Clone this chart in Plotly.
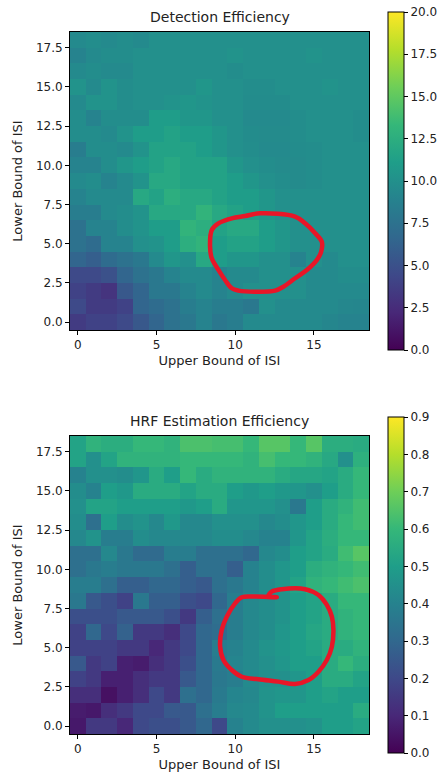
import plotly.graph_objects as go

# ---------------- data ----------------
isi_values = list(range(19))  # 0..18 (both axes)

# Detection efficiency, rows listed from lower bound 18 (top) down to 0 (bottom)
detection_rows_top_down = [
    [9.5, 9.8, 9.5, 9.8, 9.5, 10.0, 10.0, 10.0, 10.0, 10.0, 10.0, 10.0, 10.0, 10.0, 10.0, 10.0, 10.0, 10.0, 10.0],
    [9.0, 9.5, 9.8, 9.8, 10.0, 10.0, 10.0, 10.0, 10.0, 10.0, 10.2, 10.0, 10.0, 10.0, 10.0, 10.2, 10.0, 10.0, 10.0],
    [9.5, 9.8, 9.5, 9.5, 10.0, 10.0, 10.0, 10.0, 10.0, 10.0, 9.8, 10.0, 10.0, 10.0, 10.0, 10.0, 10.0, 10.0, 10.0],
    [10.2, 9.5, 10.2, 9.8, 10.0, 10.0, 10.0, 10.0, 10.5, 10.0, 10.0, 9.8, 9.8, 10.0, 10.0, 10.0, 10.2, 10.0, 10.0],
    [9.5, 10.2, 10.2, 9.8, 10.0, 10.0, 10.2, 10.5, 10.2, 10.0, 10.0, 9.7, 9.7, 9.7, 10.0, 10.0, 10.0, 10.0, 10.0],
    [9.8, 9.0, 9.8, 9.8, 9.8, 11.0, 11.0, 10.5, 10.5, 10.0, 10.0, 9.5, 9.5, 9.5, 9.8, 10.0, 10.0, 10.0, 9.8],
    [9.8, 9.8, 9.5, 10.2, 11.0, 11.0, 11.5, 11.0, 11.0, 10.5, 10.0, 9.7, 9.6, 9.6, 9.8, 10.0, 10.0, 10.0, 9.8],
    [8.5, 9.8, 9.8, 9.5, 10.2, 11.5, 11.5, 11.5, 11.0, 10.5, 10.0, 9.8, 9.5, 9.5, 9.7, 9.8, 10.0, 10.0, 10.0],
    [9.0, 9.0, 9.8, 10.5, 11.0, 11.5, 12.0, 11.5, 11.5, 11.5, 10.5, 10.0, 9.8, 9.6, 9.6, 9.8, 10.0, 10.0, 10.0],
    [9.5, 9.8, 9.0, 9.5, 10.2, 12.0, 12.0, 11.5, 11.5, 11.5, 11.0, 10.5, 10.0, 9.8, 9.6, 9.8, 10.0, 10.0, 10.0],
    [9.0, 9.5, 9.5, 9.5, 12.0, 11.5, 12.5, 12.0, 12.0, 11.5, 11.0, 11.0, 10.5, 10.0, 10.0, 10.0, 10.0, 10.0, 10.0],
    [8.5, 8.5, 9.5, 9.8, 10.2, 12.0, 12.0, 12.0, 13.0, 12.0, 11.5, 11.0, 10.5, 10.0, 10.0, 10.0, 10.0, 10.0, 10.0],
    [7.5, 9.0, 9.0, 9.8, 10.2, 11.0, 11.0, 13.0, 12.5, 11.5, 12.0, 12.0, 11.0, 10.5, 10.0, 10.0, 10.0, 10.0, 10.0],
    [7.5, 7.0, 9.0, 9.0, 10.0, 10.2, 11.0, 12.5, 13.0, 11.0, 11.5, 11.5, 11.0, 10.5, 10.0, 10.0, 10.0, 10.0, 10.0],
    [6.5, 6.0, 7.0, 7.5, 8.0, 9.5, 10.5, 10.0, 12.0, 11.0, 10.5, 10.5, 10.0, 10.0, 9.0, 10.0, 9.5, 10.0, 10.0],
    [4.5, 4.5, 5.0, 6.5, 7.5, 8.0, 9.0, 9.5, 9.5, 9.0, 9.5, 9.5, 10.0, 10.0, 10.0, 9.5, 9.5, 9.8, 9.8],
    [4.0, 3.5, 3.0, 5.5, 6.5, 8.0, 8.0, 9.0, 9.5, 9.0, 9.5, 10.0, 10.0, 10.0, 10.0, 9.5, 9.5, 9.5, 9.5],
    [4.5, 3.5, 3.5, 4.0, 6.5, 7.0, 7.5, 8.5, 9.0, 8.5, 8.5, 8.0, 10.0, 9.5, 9.5, 9.5, 9.5, 9.3, 9.2],
    [3.5, 4.0, 4.0, 4.5, 5.5, 6.5, 7.5, 8.0, 9.0, 8.0, 8.5, 9.5, 9.5, 9.5, 9.5, 9.5, 9.2, 9.0, 9.0],
]

# HRF estimation efficiency, rows listed from lower bound 18 (top) down to 0 (bottom)
hrf_rows_top_down = [
    [.52, .58, .56, .56, .60, .60, .58, .64, .64, .63, .63, .60, .66, .66, .60, .66, .56, .56, .55],
    [.52, .45, .52, .58, .58, .58, .58, .60, .60, .60, .60, .58, .63, .60, .60, .58, .54, .45, .57],
    [.40, .45, .45, .44, .47, .55, .50, .60, .55, .58, .58, .58, .58, .55, .53, .53, .52, .55, .60],
    [.44, .40, .50, .48, .55, .55, .55, .52, .55, .55, .50, .48, .50, .48, .47, .45, .50, .55, .60],
    [.45, .52, .52, .50, .50, .50, .50, .48, .50, .55, .47, .47, .47, .45, .36, .50, .55, .58, .62],
    [.44, .33, .50, .44, .46, .42, .48, .42, .42, .45, .45, .45, .42, .44, .47, .50, .55, .60, .62],
    [.42, .46, .38, .38, .44, .42, .42, .42, .42, .44, .44, .42, .40, .40, .47, .52, .56, .60, .60],
    [.33, .33, .42, .36, .31, .31, .38, .38, .33, .33, .33, .30, .42, .44, .50, .52, .55, .62, .66],
    [.33, .36, .38, .36, .36, .36, .33, .27, .33, .33, .27, .40, .44, .47, .50, .56, .58, .60, .62],
    [.38, .38, .33, .27, .27, .30, .30, .27, .25, .33, .36, .40, .44, .47, .52, .58, .60, .62, .64],
    [.36, .25, .22, .18, .36, .27, .27, .22, .20, .30, .38, .42, .44, .46, .50, .52, .55, .60, .60],
    [.22, .22, .22, .25, .25, .25, .22, .15, .27, .33, .38, .42, .44, .46, .50, .52, .55, .58, .60],
    [.18, .30, .20, .28, .15, .15, .12, .20, .30, .32, .38, .42, .44, .47, .50, .53, .55, .58, .60],
    [.18, .18, .18, .15, .15, .10, .15, .20, .30, .38, .40, .43, .46, .48, .50, .52, .55, .55, .58],
    [.25, .15, .18, .08, .07, .12, .15, .22, .30, .37, .41, .43, .45, .47, .50, .50, .55, .60, .56],
    [.18, .15, .08, .08, .12, .15, .15, .25, .30, .36, .38, .43, .45, .45, .47, .50, .55, .55, .52],
    [.12, .12, .04, .08, .12, .20, .15, .33, .30, .37, .41, .42, .46, .47, .47, .50, .52, .50, .50],
    [.07, .06, .12, .15, .20, .20, .25, .25, .33, .38, .42, .43, .46, .50, .50, .50, .50, .50, .55],
    [.06, .15, .15, .10, .20, .22, .22, .25, .30, .20, .40, .43, .45, .45, .45, .46, .50, .50, .52],
]

detection_z = detection_rows_top_down[::-1]
hrf_z = hrf_rows_top_down[::-1]

x_tick_vals = [0, 5, 10, 15]
y_tick_vals = [0, 2.5, 5, 7.5, 10, 12.5, 15, 17.5]
det_cbar_ticks = [0, 2.5, 5, 7.5, 10, 12.5, 15, 17.5, 20]
hrf_cbar_ticks = [0, 0.1, 0.2, 0.3, 0.4, 0.5, 0.6, 0.7, 0.8, 0.9]

# hand-drawn red marks (data coordinates)
det_circle_x = [11.58, 13.80, 14.44, 15.08, 15.50, 15.46, 15.18, 14.55, 13.80, 13.06, 12.53, 11.26, 10.20, 9.78, 9.35, 8.93, 8.51, 8.40, 8.51, 8.93, 9.78, 10.63, 11.58]
det_circle_y = [6.94, 6.73, 6.30, 5.67, 5.13, 4.49, 3.96, 3.33, 2.80, 2.26, 2.01, 1.94, 2.01, 2.16, 2.69, 3.33, 4.07, 4.81, 5.88, 6.30, 6.62, 6.77, 6.94]
hrf_circle_x = [12.64, 12.11, 12.32, 12.96, 14.44, 15.29, 15.82, 16.14, 16.24, 16.14, 15.82, 15.29, 14.66, 13.80, 12.74, 11.47, 10.42, 9.78, 9.25, 9.04, 9.14, 9.46, 9.99, 10.42, 11.26, 12.64]
hrf_circle_y = [8.22, 8.30, 8.58, 8.73, 8.73, 8.36, 7.73, 6.98, 6.13, 5.07, 4.22, 3.47, 2.94, 2.69, 2.84, 2.99, 3.15, 3.58, 4.22, 5.07, 6.13, 6.98, 7.83, 8.22, 8.26, 8.22]

# ---------------- figure ----------------
W, H = 447, 778
FONT = "DejaVu Sans"
TXT = "#222222"


def px_x(p):
    return p / W


def px_y(p):
    return 1 - p / H


fig = go.Figure()

fig.add_trace(go.Heatmap(
    z=detection_z, x=isi_values, y=isi_values, colorscale="Viridis",
    zmin=0, zmax=20, xaxis="x", yaxis="y", hoverinfo="skip",
    colorbar=dict(
        x=px_x(388), xanchor="left", xpad=0, ypad=0,
        y=px_y(181), yanchor="middle", len=338 / H, lenmode="fraction",
        thickness=16, thicknessmode="pixels",
        outlinewidth=1, outlinecolor="black",
        tickvals=det_cbar_ticks, tickformat=".1f",
        ticks="outside", ticklen=4, tickcolor="black",
        tickfont=dict(family=FONT, size=12, color=TXT),
    ),
))
fig.add_trace(go.Scatter(
    x=det_circle_x, y=det_circle_y, mode="lines", xaxis="x", yaxis="y",
    line=dict(color="rgb(232,22,40)", width=4.5, shape="spline"),
    hoverinfo="skip", showlegend=False,
))

fig.add_trace(go.Heatmap(
    z=hrf_z, x=isi_values, y=isi_values, colorscale="Viridis",
    zmin=0, zmax=0.9, xaxis="x2", yaxis="y2", hoverinfo="skip",
    colorbar=dict(
        x=px_x(388), xanchor="left", xpad=0, ypad=0,
        y=px_y(585), yanchor="middle", len=336 / H, lenmode="fraction",
        thickness=16, thicknessmode="pixels",
        outlinewidth=1, outlinecolor="black",
        tickvals=hrf_cbar_ticks, tickformat=".1f",
        ticks="outside", ticklen=4, tickcolor="black",
        tickfont=dict(family=FONT, size=12, color=TXT),
    ),
))
fig.add_trace(go.Scatter(
    x=hrf_circle_x, y=hrf_circle_y, mode="lines", xaxis="x2", yaxis="y2",
    line=dict(color="rgb(232,22,40)", width=4.5, shape="spline"),
    hoverinfo="skip", showlegend=False,
))

axis_common = dict(
    showline=True, linecolor="black", linewidth=1, mirror=True,
    ticks="outside", ticklen=4, tickcolor="black", showgrid=False, zeroline=False,
    tickfont=dict(family=FONT, size=12, color=TXT),
    range=[-0.5, 18.5],
)

xdom = [px_x(70), px_x(369)]
fig.update_layout(
    width=W, height=H,
    margin=dict(l=0, r=0, t=0, b=0),
    paper_bgcolor="white", plot_bgcolor="white",
    showlegend=False,
    xaxis=dict(axis_common, domain=xdom, anchor="y", tickvals=x_tick_vals,
               title=dict(text="Upper Bound of ISI", standoff=4,
                          font=dict(family=FONT, size=13, color=TXT))),
    yaxis=dict(axis_common, domain=[px_y(330), px_y(32)], anchor="x",
               tickvals=y_tick_vals, tickformat=".1f",
               title=dict(text="Lower Bound of ISI", standoff=10,
                          font=dict(family=FONT, size=13, color=TXT))),
    xaxis2=dict(axis_common, domain=xdom, anchor="y2", tickvals=x_tick_vals,
                title=dict(text="Upper Bound of ISI", standoff=4,
                           font=dict(family=FONT, size=13, color=TXT))),
    yaxis2=dict(axis_common, domain=[px_y(734), px_y(436)], anchor="x2",
                tickvals=y_tick_vals, tickformat=".1f",
                title=dict(text="Lower Bound of ISI", standoff=10,
                           font=dict(family=FONT, size=13, color=TXT))),
    annotations=[
        dict(text="Detection Efficiency", x=px_x(219.5), y=px_y(17),
             xref="paper", yref="paper", xanchor="center", yanchor="middle",
             showarrow=False, font=dict(family=FONT, size=14, color=TXT)),
        dict(text="HRF Estimation Efficiency", x=px_x(219.5), y=px_y(421),
             xref="paper", yref="paper", xanchor="center", yanchor="middle",
             showarrow=False, font=dict(family=FONT, size=14, color=TXT)),
    ],
)

fig.write_html("out.html")
